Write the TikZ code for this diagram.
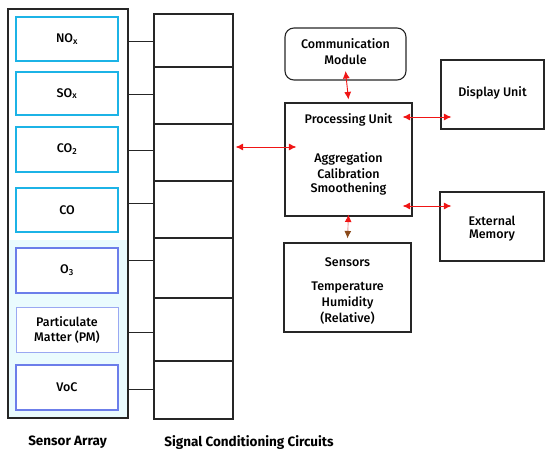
\documentclass[tikz,border=0pt]{standalone}
\usepackage{fontspec}
\setmainfont{Fira Sans Medium}[BoldFont={Fira Sans Bold}]
\usetikzlibrary{arrows.meta,calc}
\definecolor{cyanB}{HTML}{1CB3E6}
\definecolor{blueB}{HTML}{6C7EEA}
\definecolor{lavB}{HTML}{9AA8F2}
\definecolor{paleC}{HTML}{EAFBFE}
\definecolor{arrR}{HTML}{F01515}
\definecolor{arrBr}{HTML}{8A4A1A}
\definecolor{arrPk}{HTML}{F09A9A}
\begin{document}
\begin{tikzpicture}[x=1pt,y=-1pt,
  txt/.style={font=\fontsize{12.5}{15}\selectfont, inner sep=0pt},
  sbox/.style={txt, draw=cyanB, line width=2pt, fill=white, minimum width=102pt, minimum height=44pt, align=center},
  bbox/.style={sbox, draw=blueB},
  blk/.style={draw=black!85, line width=1.1pt, inner sep=0pt},
  cell/.style={blk, minimum width=79pt},
  conn/.style={draw=black!85, line width=1pt},
  tipR/.style={Latex[length=7.5pt,width=7pt,color=arrR]},
  bi/.style={draw=arrR, line width=0.9pt, {Latex[length=7.5pt,width=7pt,color=arrR]}-{Latex[length=7.5pt,width=7pt,color=arrR]}},
  lab/.style={font=\bfseries\fontsize{13.5}{16}\selectfont, inner sep=0pt}
]
\useasboundingbox (0,0) rectangle (550,460);
% sensor array outer
\node[blk, minimum width=120pt, minimum height=409pt] (sa) at (68,213.5) {};
\fill[paleC] (9,240) rectangle (127,417);
\node[sbox] (nox) at (67,39) {NO\textsubscript{x}};
\node[sbox, minimum height=43pt] (sox) at (67,93.5) {SO\textsubscript{x}};
\node[sbox, minimum height=45pt] (co2) at (67,149.5) {CO\textsubscript{2}};
\node[sbox] (co) at (67,210) {CO};
\node[bbox, minimum height=45pt] (o3) at (67,270.5) {O\textsubscript{3}};
\node[sbox, draw=lavB, line width=0.9pt, minimum height=45pt] (pm) at (67,329.5) {Particulate\\Matter (PM)};
\node[bbox, minimum height=45pt] (voc) at (67,387.5) {VoC};
% signal conditioning cells
\node[cell, minimum height=53pt] (c1) at (193.5,40.5) {};
\node[cell, minimum height=57pt] (c2) at (193.5,95.5) {};
\node[cell, minimum height=57pt] (c3) at (193.5,152.5) {};
\node[cell, minimum height=57pt] (c4) at (193.5,209.5) {};
\node[cell, minimum height=60pt] (c5) at (193.5,268) {};
\node[cell, minimum height=63pt] (c6) at (193.5,329.5) {};
\node[cell, minimum height=58pt] (c7) at (193.5,390) {};
% connectors
\foreach \yy/\cc in {42/c1,95/c2,151/c3,204/c4,260/c5,332/c6,389/c7}
  \draw[conn] (sa.east |- 0,\yy) -- (\cc.west |- 0,\yy);
% right side blocks
\node[blk, rounded corners=9pt, minimum width=121pt, minimum height=52pt] (comm) at (345.5,54) {};
\node[txt] (commt1) at (345.5,44) {Communication};
\node[txt] (commt2) at (345.5,60) {Module};
\node[blk, minimum width=127pt, minimum height=113pt] (proc) at (348.5,159.5) {};
\node[txt] (proct1) at (348.5,120) {Processing Unit};
\node[txt] (proct2) at (348.5,159) {Aggregation};
\node[txt] (proct3) at (348.5,174) {Calibration};
\node[txt] (proct4) at (348.5,189) {Smoothening};
\node[blk, minimum width=103pt, minimum height=69pt] (disp) at (492.5,94.5) {};
\node[txt] (dispt) at (492.5,93) {Display Unit};
\node[blk, minimum width=104pt, minimum height=69pt] (ext) at (492,226.5) {};
\node[txt] (extt1) at (492,221) {External};
\node[txt] (extt2) at (492,236) {Memory};
\node[blk, minimum width=127pt, minimum height=89pt] (sens) at (347.5,287.5) {};
\node[txt] (senst1) at (347.5,262) {Sensors};
\node[txt] (senst2) at (347.5,288) {Temperature};
\node[txt] (senst3) at (347.5,303) {Humidity};
\node[txt] (senst4) at (347.5,318) {(Relative)};
% arrows
\draw[bi] ($(c3.east |- 0,147)+(2,0)$) -- ($(proc.west |- 0,147)+(12,0)$);
\draw[bi] ($(comm.south |- 0,71)$) -- ($(proc.north)+(0,-3)$);
\draw[bi] ($(proc.east |- 0,117)+(-10,0)$) -- ($(disp.west |- 0,117)+(11,0)$);
\draw[bi] ($(proc.east |- 0,206)+(-10,0)$) -- ($(ext.west |- 0,206)+(12,0)$);
\draw[draw=arrPk, line width=0.9pt, {Latex[length=7.5pt,width=7pt,color=arrR]}-{Latex[length=7.5pt,width=7pt,color=arrBr]}] ($(proc.south)+(0,-2)$) -- ($(sens.north)+(0,-4)$);
% labels
\node[lab] (l1) at (67.5,442) {Sensor Array};
\node[lab] (l2) at (249,443) {Signal Conditioning Circuits};
\end{tikzpicture}
\end{document}
